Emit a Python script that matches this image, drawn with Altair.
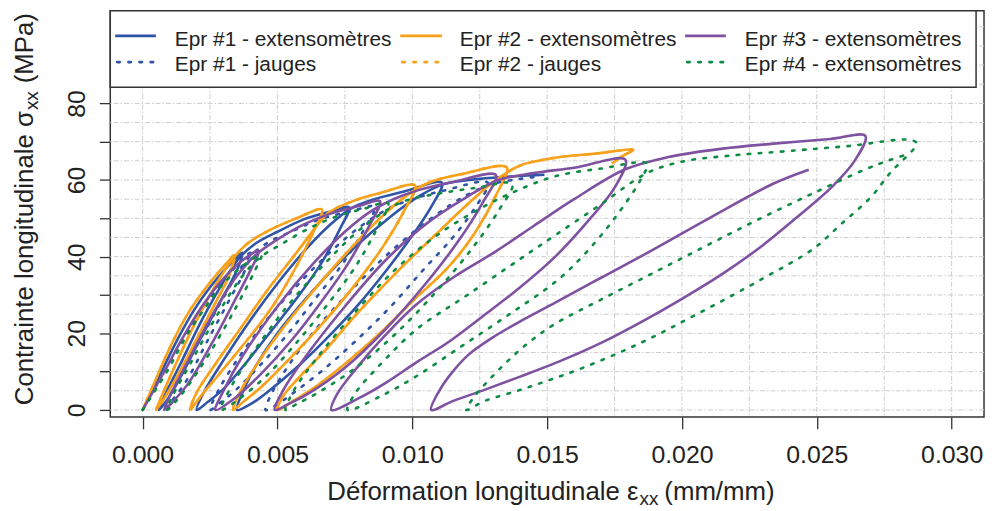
import altair as alt
import pandas as pd

# ---------------- data (strain mm/mm, stress MPa) ----------------
# Epr #1 - extensometres (blue, solid)
e1x_x = [0, 0.0007, 0.0013, 0.0019, 0.0025, 0.0031, 0.0037,
         0.0035, 0.0029, 0.0021, 0.0014, 0.0009, 0.0006,
         0.0008, 0.0014, 0.0022, 0.0030, 0.0036, 0.0042, 0.0050, 0.0060, 0.0070, 0.00765,
         0.0073, 0.0066, 0.0057, 0.0047, 0.0038, 0.0030, 0.0024, 0.0020,
         0.0023, 0.0030, 0.0040, 0.0050, 0.0060, 0.0069, 0.0077, 0.0085, 0.0097, 0.0111,
         0.0107, 0.0100, 0.0091, 0.0080, 0.0068, 0.0057, 0.0046, 0.0040, 0.0035,
         0.0037, 0.0042, 0.0050, 0.0063, 0.0078, 0.0092, 0.0103, 0.0112, 0.0125, 0.0138, 0.0149]
e1x_y = [0, 10, 18.5, 26, 32, 37, 41,
         36.5, 28.5, 18, 8.5, 2.5, 0,
         3.5, 12, 23.5, 33.5, 39.8, 43.5, 46.5, 49.8, 51.8, 52.9,
         47, 38, 29, 20, 12, 5.5, 2, 0,
         5, 13, 23.5, 33, 41.5, 48, 52.5, 54.8, 57, 59.3,
         53, 45.5, 37, 27.5, 18.5, 11, 4.5, 1.5, 0,
         4.5, 11.5, 20, 31, 42, 50.5, 56, 59, 60.3, 61, 61.4]

# Epr #1 - jauges (blue, dotted)
e1j_x = [0, 0.0008, 0.0015, 0.0022, 0.0028, 0.0034, 0.0040,
         0.0038, 0.0032, 0.0024, 0.0017, 0.0011, 0.0008,
         0.0010, 0.0016, 0.0025, 0.0033, 0.0039, 0.0046, 0.0055, 0.0066, 0.0077, 0.0086,
         0.0082, 0.0074, 0.0064, 0.0054, 0.0044, 0.0035, 0.0029, 0.0025,
         0.0028, 0.0035, 0.0046, 0.0058, 0.0070, 0.0081, 0.0091, 0.0100, 0.0112, 0.0128,
         0.0123, 0.0115, 0.0104, 0.0092, 0.0079, 0.0067, 0.0056, 0.0050, 0.00456,
         0.0048, 0.0054, 0.0063, 0.0077, 0.0093, 0.0108, 0.0120, 0.0130, 0.0140, 0.0148]
e1j_y = [0, 10, 18.5, 26, 32, 37, 41,
         36.5, 28.5, 18, 8.5, 2.5, 0,
         3.5, 11.5, 23, 33, 39.5, 43.5, 46.5, 49.8, 51.8, 53,
         47, 38, 29, 20, 12, 5.5, 2, 0,
         5, 13, 23.5, 33, 41.5, 48, 52.5, 55, 57.3, 59.3,
         52.5, 45, 36.5, 27, 18, 10.5, 4.5, 1.5, 0,
         4.5, 11.5, 20, 31, 42, 50.5, 56, 59, 60.3, 61]

# Epr #2 - extensometres (orange, solid)
e2x_x = [0, 0.0006, 0.0011, 0.0017, 0.0022, 0.0027, 0.0031, 0.0034,
         0.0032, 0.0027, 0.0020, 0.0013, 0.0008, 0.0005,
         0.0007, 0.0012, 0.0019, 0.0027, 0.0033, 0.0039, 0.0047, 0.0057, 0.00665,
         0.0063, 0.0057, 0.0050, 0.0043, 0.0035, 0.0028, 0.0022, 0.00176,
         0.0020, 0.0027, 0.0036, 0.0046, 0.0057, 0.0064, 0.0069, 0.0078, 0.0088, 0.0101,
         0.0097, 0.0089, 0.0078, 0.0066, 0.0054, 0.0044, 0.0038, 0.00335,
         0.0036, 0.0042, 0.0050, 0.0062, 0.0075, 0.0088, 0.0098, 0.0106, 0.0118, 0.0135,
         0.0131, 0.0123, 0.0113, 0.0101, 0.0088, 0.0075, 0.0063, 0.0055, 0.0050,
         0.0052, 0.0058, 0.0067, 0.0080, 0.0095, 0.0109, 0.0121, 0.0131, 0.0140, 0.0153,
         0.0168, 0.0182, 0.0178, 0.0174]
e2x_y = [0, 9.8, 17.6, 25.4, 30.5, 35, 38.2, 40.4,
         35, 28, 18.5, 9, 3, 0,
         3.5, 11.5, 22, 32.5, 39, 43.5, 46.9, 50, 52.3,
         46, 37.5, 29, 22, 15, 9, 4, 0,
         4.5, 12, 21, 31, 41, 47.5, 51.5, 54.5, 56.6, 58.6,
         52, 42.5, 32, 22, 13, 6, 2.5, 0,
         4.5, 11.5, 19.5, 30, 40.5, 50, 56, 59.3, 61.5, 63.3,
         56, 46, 37, 29, 20, 12, 5.5, 2, 0,
         3.5, 8.5, 15, 25.5, 36.5, 46, 54, 60, 63.8, 65.8,
         66.9, 67.9, 66.3, 64.3]

# Epr #2 - jauges (orange, dotted) : hidden under the extensometer curve
e2j_x = list(e2x_x)
e2j_y = list(e2x_y)

# Epr #3 - extensometres (purple, solid)
e3x_x = [0, 0.0008, 0.0015, 0.0022, 0.0029, 0.0036, 0.0043,
         0.0040, 0.0033, 0.0025, 0.0017, 0.0011, 0.0008,
         0.0010, 0.0017, 0.0026, 0.0035, 0.0042, 0.0050, 0.0060, 0.0070, 0.0080, 0.0088,
         0.0084, 0.0076, 0.0066, 0.0055, 0.0044, 0.0034, 0.0027,
         0.0030, 0.0037, 0.0050, 0.0063, 0.0075, 0.0085, 0.0093, 0.0102, 0.0115, 0.0131,
         0.0126, 0.0117, 0.0105, 0.0090, 0.0075, 0.0062, 0.0054, 0.0049,
         0.0052, 0.0060, 0.0075, 0.0090, 0.0105, 0.0120, 0.0132, 0.0145, 0.0160, 0.0179,
         0.0175, 0.0166, 0.0153, 0.0140, 0.0127, 0.0114, 0.01015, 0.0090, 0.0080, 0.0070,
         0.0072, 0.0080, 0.0090, 0.01015, 0.0115, 0.0131, 0.0145, 0.0160, 0.0179,
         0.0195, 0.0215, 0.0234, 0.0255, 0.0268,
         0.0264, 0.0256, 0.0243, 0.0230, 0.0215, 0.0200, 0.0185, 0.0170, 0.0155, 0.0140,
         0.0127, 0.0115, 0.0107,
         0.0110, 0.0115, 0.0121, 0.0130, 0.0141, 0.0153, 0.0170, 0.0189, 0.0210, 0.0234,
         0.0247]
e3x_y = [0, 10, 19, 27, 33.5, 38.5, 41.5,
         36.5, 27, 16.5, 7, 2, 0,
         3.5, 13, 25, 35, 40.5, 44.5, 48.5, 51.3, 53.2, 54.5,
         48, 38, 28, 18, 9.5, 3, 0,
         5, 14, 27, 38, 46.5, 52, 55, 57.3, 59.5, 61.3,
         54, 44, 33, 21, 11, 4.5, 1.5, 0,
         5, 13.5, 27, 39, 48.5, 55.5, 60, 61.8, 63.2, 65.3,
         58, 50, 40, 32, 24.9, 18, 12.4, 7, 3, 0,
         4, 11.5, 19.5, 27.5, 34.5, 41.4, 48, 55, 62.8,
         66, 68.2, 69.5, 70.7, 71.5,
         65, 58.5, 50.5, 43, 35.5, 29, 23, 17.5, 12.8, 8.7,
         5.3, 2.3, 0,
         5, 10, 14.5, 19, 23.5, 28, 34.5, 41.7, 50, 59.1,
         62.7]

# Epr #4 - extensometres (green, dotted)
e4x_x = [0, 0.0009, 0.0016, 0.0023, 0.0030, 0.0037, 0.0044,
         0.0041, 0.0034, 0.0025, 0.0017, 0.0012, 0.0009,
         0.0011, 0.0018, 0.0027, 0.0036, 0.0043, 0.0052, 0.0062, 0.0072, 0.0082, 0.0091,
         0.0087, 0.0079, 0.0068, 0.0057, 0.0046, 0.0036, 0.0029,
         0.0032, 0.0040, 0.0053, 0.0066, 0.0078, 0.0088, 0.0097, 0.0110, 0.0124, 0.0137,
         0.0132, 0.0122, 0.0109, 0.0094, 0.0079, 0.0065, 0.0057, 0.0053,
         0.0056, 0.0064, 0.0080, 0.0095, 0.0110, 0.0125, 0.0138, 0.0153, 0.0170, 0.0187,
         0.0185, 0.0175, 0.0163, 0.0153, 0.0135, 0.0118, 0.01015, 0.0088, 0.0076,
         0.0079, 0.0087, 0.01015, 0.0120, 0.0140, 0.0153, 0.0170, 0.0187, 0.0200, 0.0220,
         0.0240, 0.0262, 0.0284, 0.0287,
         0.0277, 0.0270, 0.0259, 0.0249, 0.0230, 0.0205, 0.0185, 0.0164, 0.0150, 0.0139,
         0.0127, 0.0120,
         0.0123, 0.0128, 0.0135, 0.0143, 0.0153, 0.0170, 0.0190, 0.0210, 0.0230, 0.0250,
         0.0268, 0.0277, 0.0284]
e4x_y = [0, 10, 19, 26.5, 33, 37.5, 40.5,
         35.5, 26, 15, 6.5, 2, 0,
         3.5, 12.5, 24, 34, 39.5, 43.5, 47.5, 50.5, 52.5, 54,
         47.5, 37.5, 27, 17.5, 9, 3, 0,
         5, 14, 26.5, 37, 45.5, 51, 54.5, 56.5, 58, 59,
         52, 42, 31, 20, 11, 4.5, 1.5, 0,
         5, 13, 26.5, 37.5, 46, 52.5, 57, 61, 63, 64.3,
         60.5, 50, 40, 33.4, 24.5, 16.5, 8.8, 3.5, 0,
         4.5, 11, 21, 29.8, 39.4, 45.6, 53.7, 61.8, 64.8, 66.5,
         67.6, 68.9, 70.5, 69.6,
         61.7, 55.5, 48.5, 42.2, 34.3, 24.8, 17.6, 11.2, 7.6, 5.0,
         2.4, 0,
         3.5, 7.5, 12.5, 17.5, 22.5, 28.8, 36, 43.2, 50.3, 57,
         62.8, 65.2, 66.8]

legend_labels = ["Epr #1 - extensomètres", "Epr #2 - extensomètres", "Epr #3 - extensomètres",
                 "Epr #1 - jauges", "Epr #2 - jauges", "Epr #4 - extensomètres"]

x_ticks = [0.0, 0.005, 0.010, 0.015, 0.020, 0.025, 0.030]
y_ticks = [0, 10, 20, 30, 40, 50, 60, 70, 80]
grid_x = [0.0, 0.0025, 0.005, 0.0075, 0.010, 0.0125, 0.015, 0.0175, 0.020, 0.0225,
          0.025, 0.0275, 0.030]
grid_y = [0, 5, 10, 15, 20, 25, 30, 35, 40, 45, 50, 55, 60, 65, 70, 75, 80, 85, 90, 95, 100]

# ---------------- styles ----------------
BLUE = "#3155A6"
ORANGE = "#F8A21C"
PURPLE = "#7E51A1"
GREEN = "#0E8C45"
TXT = "#222222"
FONT = "Liberation Sans"
DOT = [2.6, 8.6]
LW = 2.6
TITLE_FS = 26

W, H = 880, 409
xscale = alt.Scale(domain=[-0.0012, 0.0312], nice=False, zero=False)
yscale = alt.Scale(domain=[-1.81, 104.17], nice=False, zero=False)

xaxis = alt.Axis(values=x_ticks, format=".3f", grid=False, domain=False,
                 tickSize=12, tickColor="#333333", tickWidth=1.3,
                 labelFontSize=25, labelFont=FONT, labelColor=TXT,
                 labelPadding=14, labelFlush=False, title=None)
yaxis = alt.Axis(values=y_ticks, grid=False, domain=False,
                 tickSize=11, tickColor="#333333", tickWidth=1.3,
                 labelFontSize=25, labelFont=FONT, labelColor=TXT,
                 labelAngle=270, labelAlign="center", labelBaseline="bottom",
                 labelPadding=10, labelFlush=False, title=None,
                 labelExpr="datum.value % 20 === 0 ? datum.label : ''")


def X(field):
    return alt.X(field, scale=xscale, axis=xaxis, title=None)


def Y(field):
    return alt.Y(field, scale=yscale, axis=yaxis, title=None)


def series_df(xs, ys):
    return pd.DataFrame({"x": xs, "y": ys, "i": list(range(len(xs)))})


layers = []

# grid
layers.append(
    alt.Chart(pd.DataFrame({"x": grid_x})).mark_rule(
        color="#CCCCCC", strokeWidth=1, strokeDash=[5, 2, 1.5, 2]
    ).encode(x=X("x:Q"))
)
layers.append(
    alt.Chart(pd.DataFrame({"y": grid_y})).mark_rule(
        color="#CCCCCC", strokeWidth=1, strokeDash=[5, 2, 1.5, 2]
    ).encode(y=Y("y:Q"))
)

series = [
    (e1x_x, e1x_y, BLUE, None),
    (e1j_x, e1j_y, BLUE, DOT),
    (e2j_x, e2j_y, ORANGE, DOT),
    (e2x_x, e2x_y, ORANGE, None),
    (e3x_x, e3x_y, PURPLE, None),
    (e4x_x, e4x_y, GREEN, DOT),
]
for xs, ys, col, dash in series:
    kw = dict(color=col, strokeWidth=LW, strokeJoin="round", interpolate="catmull-rom")
    if dash is not None:
        kw["strokeDash"] = dash
        kw["strokeCap"] = "round"
    layers.append(
        alt.Chart(series_df(xs, ys)).mark_line(**kw).encode(
            x=X("x:Q"), y=Y("y:Q"), order="i:Q",
        )
    )

one = pd.DataFrame({"a": [0]})

# legend box
layers.append(
    alt.Chart(one).mark_rect(fill="white", stroke="#333333", strokeWidth=1.5).encode(
        x=alt.value(0), x2=alt.value(872), y=alt.value(0), y2=alt.value(77)
    )
)

leg_colors = [BLUE, ORANGE, PURPLE, BLUE, ORANGE, GREEN]
leg_dash = [None, None, None, DOT, DOT, DOT]
col_sym = [(5, 46), (292, 334), (579, 620)]
col_txt = [65, 352, 639]
row_sym = [25.3, 51.7]
row_txt = [35.3, 60.5]
for k, lab in enumerate(legend_labels):
    r, c = divmod(k, 3)
    kw = dict(color=leg_colors[k], strokeWidth=LW)
    if leg_dash[k] is not None:
        kw["strokeDash"] = leg_dash[k]
        kw["strokeCap"] = "round"
    layers.append(
        alt.Chart(one).mark_rule(**kw).encode(
            x=alt.value(col_sym[c][0] + (2 if leg_dash[k] else 0)),
            x2=alt.value(col_sym[c][1]),
            y=alt.value(row_sym[r]),
        )
    )
    layers.append(
        alt.Chart(one).mark_text(
            text=lab, align="left", baseline="alphabetic", font=FONT, fontSize=21, color=TXT
        ).encode(x=alt.value(col_txt[c]), y=alt.value(row_txt[r]))
    )

# x-axis title (with subscript)
layers.append(alt.Chart(one).mark_text(
    text="Déformation longitudinale ε", align="right", baseline="alphabetic",
    font=FONT, fontSize=TITLE_FS, color=TXT).encode(x=alt.value(532), y=alt.value(493)))
layers.append(alt.Chart(one).mark_text(
    text="xx", align="left", baseline="alphabetic",
    font=FONT, fontSize=19, color=TXT).encode(x=alt.value(533), y=alt.value(498)))
layers.append(alt.Chart(one).mark_text(
    text="(mm/mm)", align="left", baseline="alphabetic",
    font=FONT, fontSize=TITLE_FS, color=TXT).encode(x=alt.value(558), y=alt.value(493)))

# y-axis title (with subscript), rotated
layers.append(alt.Chart(one).mark_text(
    text="Contrainte longitudinale  σ", align="right", baseline="alphabetic", angle=270,
    font=FONT, fontSize=TITLE_FS, color=TXT).encode(x=alt.value(-77.5), y=alt.value(101)))
layers.append(alt.Chart(one).mark_text(
    text="xx", align="left", baseline="alphabetic", angle=270,
    font=FONT, fontSize=19, color=TXT).encode(x=alt.value(-73), y=alt.value(100)))
layers.append(alt.Chart(one).mark_text(
    text="(MPa)", align="left", baseline="alphabetic", angle=270,
    font=FONT, fontSize=TITLE_FS, color=TXT).encode(x=alt.value(-77.5), y=alt.value(73)))

chart = alt.layer(*layers).properties(
    width=W, height=H,
    autosize=alt.AutoSizeParams(type="none"),
    padding={"left": 103, "top": 1, "right": 2, "bottom": 96},
    background="white",
).configure_view(stroke="#333333", strokeWidth=1.5)

chart.save("out.html", embed_options={"renderer": "svg", "actions": False})
